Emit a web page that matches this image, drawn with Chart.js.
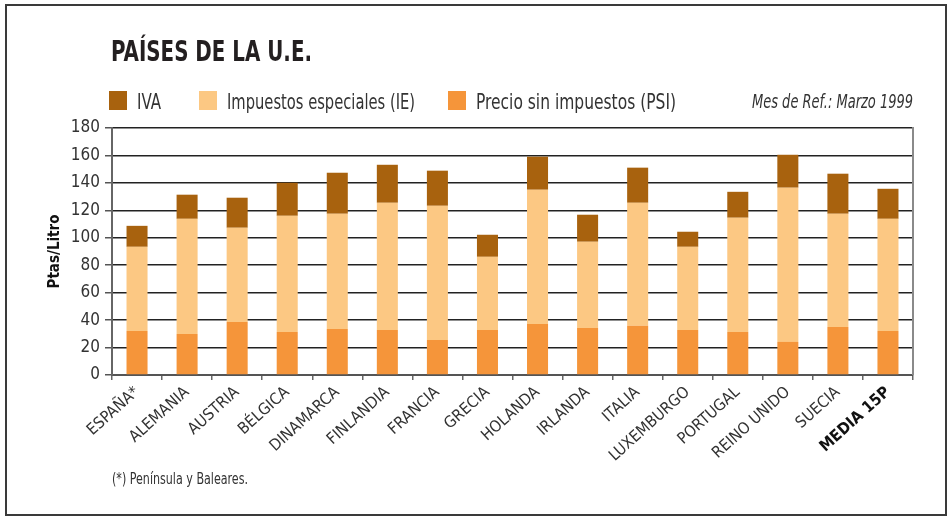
<!DOCTYPE html>
<html>
<head>
<meta charset="utf-8">
<script src="https://cdn.jsdelivr.net/npm/chart.js@4.4.1/dist/chart.umd.min.js"></script>
<style>
  html, body { margin: 0; padding: 0; background: #fff; }
</style>
</head>
<body>
<canvas id="chart" width="950" height="517"></canvas>
<script>
const paises = ['ESPAÑA*', 'ALEMANIA', 'AUSTRIA', 'BÉLGICA', 'DINAMARCA', 'FINLANDIA', 'FRANCIA', 'GRECIA',
  'HOLANDA', 'IRLANDA', 'ITALIA', 'LUXEMBURGO', 'PORTUGAL', 'REINO UNIDO', 'SUECIA', 'MEDIA 15P'];

// Ptas/Litro, por componente
const psi = [32.1, 29.9, 38.7, 31.4, 33.6, 32.8, 25.5, 32.8, 37.2, 34.3, 35.8, 32.8, 31.4, 24.1, 35.0, 32.1];
const ie  = [61.3, 83.9, 68.6, 84.6, 83.9, 92.7, 97.8, 53.3, 97.8, 62.8, 89.7, 60.6, 83.2, 112.4, 82.5, 81.7];
const iva = [15.3, 17.6, 21.9, 24.1, 29.9, 27.7, 25.6, 16.1, 24.1, 19.7, 25.6, 11.0, 18.9, 24.0, 29.2, 21.9];

const yMin = 0, yMax = 180, yStep = 20;

const titulo = 'PAÍSES DE LA U.E.';
const nota = '(*) Península y Baleares.';
const fecha = 'Mes de Ref.: Marzo 1999';

const NARROW = "'Liberation Sans Narrow', 'DejaVu Sans Condensed', 'Roboto Condensed', 'Liberation Sans', sans-serif";

// textos, leyenda y marcos
const decor = {
  id: 'decor',
  afterDraw(chart) {
    const ctx = chart.ctx;
    const area = chart.chartArea;
    ctx.save();

    ctx.strokeStyle = '#3a3a3a';
    ctx.lineWidth = 2;
    ctx.strokeRect(6, 5, 940, 510);

    // borde derecho del área de trazado
    ctx.strokeStyle = '#8a8a8a';
    ctx.lineWidth = 2;
    ctx.beginPath();
    ctx.moveTo(area.right, area.top - 1);
    ctx.lineTo(area.right, area.bottom);
    ctx.stroke();

    ctx.fillStyle = '#231f20';
    ctx.textBaseline = 'alphabetic';
    ctx.textAlign = 'left';
    ctx.font = 'bold 29px ' + NARROW;
    ctx.fillText(titulo, 111, 61, 201);

    // leyenda: de arriba a abajo de la pila
    const items = chart.data.datasets.slice().reverse();
    const xs = [109, 199, 448];
    ctx.font = '21px ' + NARROW;
    items.forEach((ds, i) => {
      ctx.fillStyle = ds.backgroundColor;
      ctx.fillRect(xs[i], 91, 18, 19);
      ctx.fillStyle = '#333';
      const maxW = [24, 188, 200][i];
      ctx.fillText(ds.label, xs[i] + 28, 109, maxW);
    });

    ctx.font = 'italic 20px ' + NARROW;
    ctx.textAlign = 'right';
    ctx.fillStyle = '#333';
    ctx.fillText(fecha, 913, 108, 161);

    ctx.textAlign = 'left';
    ctx.font = '15px ' + NARROW;
    ctx.fillText(nota, 112, 484, 136);
    ctx.restore();
  }
};

const ctx = document.getElementById('chart').getContext('2d');
new Chart(ctx, {
  type: 'bar',
  data: {
    labels: paises,
    datasets: [
      { label: 'Precio sin impuestos (PSI)', data: psi, backgroundColor: '#f5953a' },
      { label: 'Impuestos especiales (IE)', data: ie, backgroundColor: '#fcc883' },
      { label: 'IVA', data: iva, backgroundColor: '#a8620e' }
    ]
  },
  options: {
    responsive: false,
    animation: false,
    devicePixelRatio: 1,
    layout: { padding: { top: 128, right: 37, left: 0, bottom: 0 } },
    datasets: {
      bar: { barPercentage: 0.42, categoryPercentage: 1, borderWidth: 0 }
    },
    plugins: {
      legend: { display: false },
      tooltip: { enabled: false }
    },
    scales: {
      x: {
        stacked: true,
        afterFit(scale) { scale.height = 142; },
        grid: {
          drawOnChartArea: false,
          drawTicks: true,
          tickLength: 5,
          offset: true,
          color: '#666',
          lineWidth: 1.5
        },
        border: { color: '#555', width: 2 },
        ticks: {
          autoSkip: false,
          maxRotation: 42,
          minRotation: 42,
          padding: 3,
          color: ctx => ctx.index === paises.length - 1 ? '#111' : '#333',
          font: ctx => ({
            family: NARROW,
            size: 16,
            weight: ctx.index === paises.length - 1 ? 'bold' : 'normal'
          })
        }
      },
      y: {
        stacked: true,
        min: yMin,
        max: yMax,
        afterFit(scale) { scale.width = 112; },
        grid: {
          color: '#222',
          lineWidth: 1.5,
          drawTicks: true,
          tickLength: 7,
          tickColor: '#555'
        },
        border: { color: '#666', width: 2 },
        ticks: {
          stepSize: yStep,
          padding: 5,
          color: '#333',
          font: { family: NARROW, size: 17 }
        },
        title: {
          display: true,
          text: 'Ptas/Litro',
          color: '#111',
          font: { family: NARROW, size: 15, weight: 'bold' },
          padding: { top: 46, bottom: 0 }
        }
      }
    }
  },
  plugins: [decor]
});
</script>
</body>
</html>
